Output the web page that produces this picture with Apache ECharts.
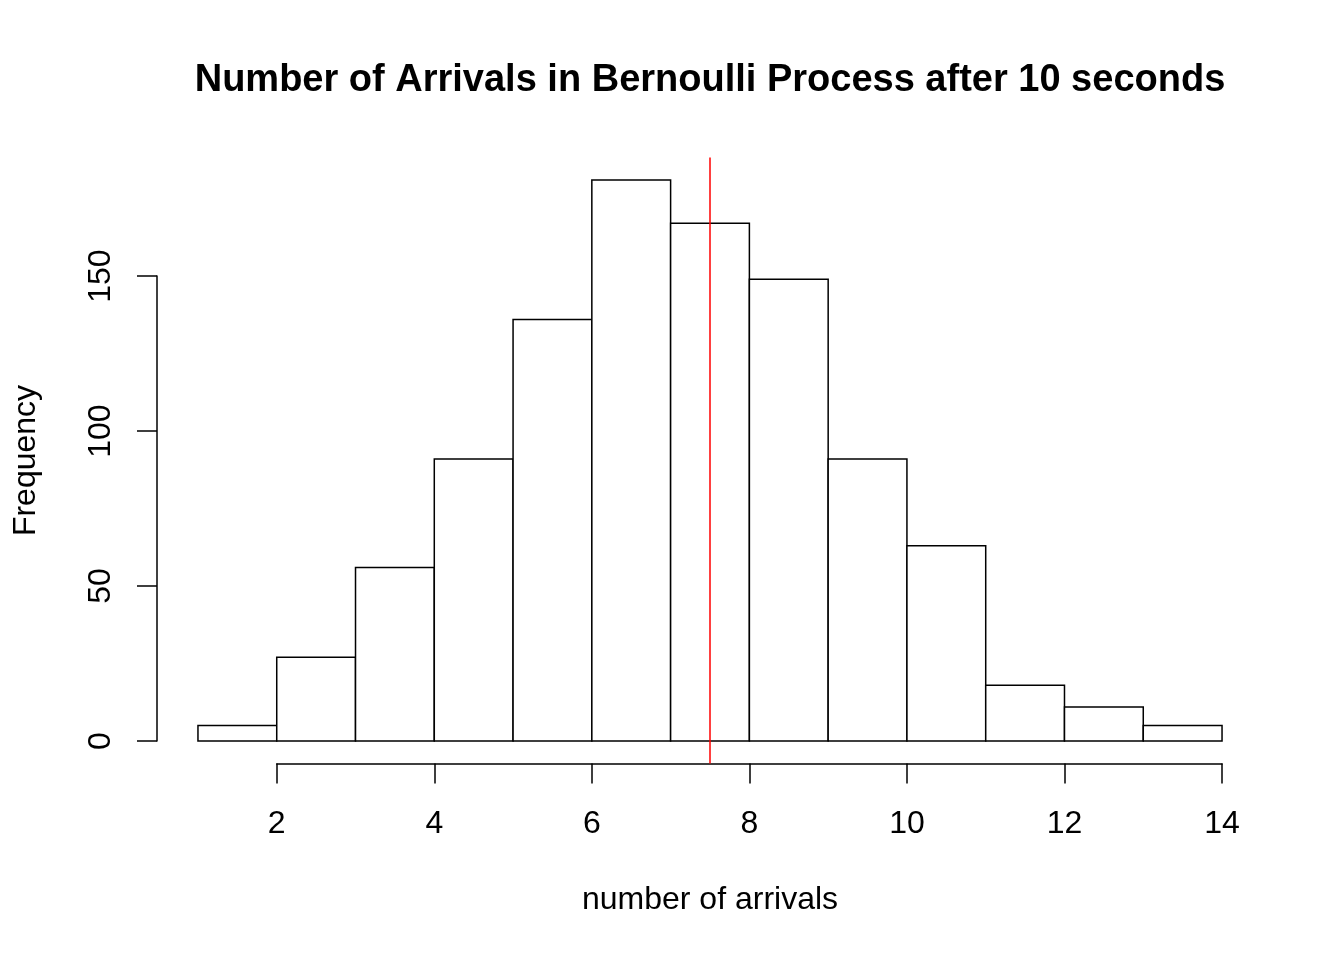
<!DOCTYPE html>
<html>
<head>
<meta charset="utf-8">
<script src="https://cdn.jsdelivr.net/npm/echarts@6/dist/echarts.min.js"></script>
<style>
html,body{margin:0;padding:0;background:#fff;}
#chart{width:1344px;height:960px;}
</style>
</head>
<body>
<div id="chart"></div>
<script>
// Data
var breaks = [1, 2, 3, 4, 5, 6, 7, 8, 9, 10, 11, 12, 13, 14];
var counts = [5, 27, 56, 91, 136, 181, 167, 149, 91, 63, 18, 11, 5];
var meanValue = 7.5;
var titleText = 'Number of Arrivals in Bernoulli Process after 10 seconds';
var xTitle = 'number of arrivals';
var yTitle = 'Frequency';

var bins = counts.map(function (c, i) { return [breaks[i], breaks[i + 1], c]; });

// R-style axis ranges (4% extension)
var xMin = breaks[0], xMax = breaks[breaks.length - 1];
var yMaxData = Math.max.apply(null, counts);
var xPad = (xMax - xMin) * 0.04, yPad = yMaxData * 0.04;

var FONT = '"Liberation Sans", Arial, Helvetica, sans-serif';
var chart = echarts.init(document.getElementById('chart'), null, {renderer: 'canvas'});

// plot region
var PL = 157, PT = 157.5, PW = 1106, PH = 606;
var pxPerX = PW / ((xMax + xPad) - (xMin - xPad));
var pxPerY = PH / ((yMaxData + yPad) - (0 - yPad));
var xAxisLeft = PL + (2 - (xMin - xPad)) * pxPerX;
var xAxisWidth = (14 - 2) * pxPerX;
var yAxisTop = PT + ((yMaxData + yPad) - 150) * pxPerY;
var yAxisHeight = 150 * pxPerY;

var option = {
  backgroundColor: '#ffffff',
  animation: false,
  graphic: [{
    type: 'text', x: PL + PW / 2, y: 81,
    style: {text: titleText, font: 'bold 38px ' + FONT, fill: '#000', textAlign: 'center', textVerticalAlign: 'middle'}
  }],
  grid: [
    {left: PL, top: PT, width: PW, height: PH},
    {left: xAxisLeft, top: PT, width: xAxisWidth, height: PH},
    {left: PL, top: yAxisTop, width: PW, height: yAxisHeight}
  ],
  xAxis: [
    {gridIndex: 0, type: 'value', min: xMin - xPad, max: xMax + xPad,
      axisLine: {show: false}, axisTick: {show: false}, axisLabel: {show: false}, splitLine: {show: false},
      name: xTitle, nameLocation: 'middle', nameGap: 121,
      nameTextStyle: {fontFamily: FONT, fontSize: 32, color: '#000'}},
    {gridIndex: 1, type: 'value', min: 2, max: 14, interval: 2, position: 'bottom',
      axisLine: {show: true, onZero: false, lineStyle: {color: '#000', width: 1.5}},
      axisTick: {show: true, inside: false, length: 20, lineStyle: {color: '#000', width: 1.5}},
      axisLabel: {show: true, margin: 45, fontFamily: FONT, fontSize: 32, color: '#000'},
      splitLine: {show: false}},
    {gridIndex: 2, type: 'value', show: false, min: 0, max: 1}
  ],
  yAxis: [
    {gridIndex: 0, type: 'value', min: -yPad, max: yMaxData + yPad,
      axisLine: {show: false}, axisTick: {show: false}, axisLabel: {show: false}, splitLine: {show: false},
      name: yTitle, nameLocation: 'middle', nameGap: 115,
      nameTextStyle: {fontFamily: FONT, fontSize: 32, color: '#000'}},
    {gridIndex: 1, type: 'value', show: false, min: 0, max: 1},
    {gridIndex: 2, type: 'value', min: 0, max: 150, interval: 50, position: 'left',
      axisLine: {show: true, onZero: false, lineStyle: {color: '#000', width: 1.5}},
      axisTick: {show: true, inside: false, length: 20, lineStyle: {color: '#000', width: 1.5}},
      axisLabel: {show: true, rotate: 90, margin: 40, fontFamily: FONT, fontSize: 32, color: '#000'},
      splitLine: {show: false}}
  ],
  series: [{
    type: 'custom',
    xAxisIndex: 0, yAxisIndex: 0,
    data: bins,
    renderItem: function (params, api) {
      var p0 = api.coord([api.value(0), 0]);
      var p1 = api.coord([api.value(1), api.value(2)]);
      return {
        type: 'rect',
        shape: {x: p0[0], y: p1[1], width: p1[0] - p0[0], height: p0[1] - p1[1]},
        style: {fill: '#ffffff', stroke: '#000000', lineWidth: 1.5}
      };
    },
    markLine: {
      silent: true, symbol: ['none', 'none'], label: {show: false},
      lineStyle: {color: '#ff0000', width: 1.5, type: 'solid'},
      data: [{xAxis: meanValue}]
    }
  }]
};
chart.setOption(option);
</script>
</body>
</html>
